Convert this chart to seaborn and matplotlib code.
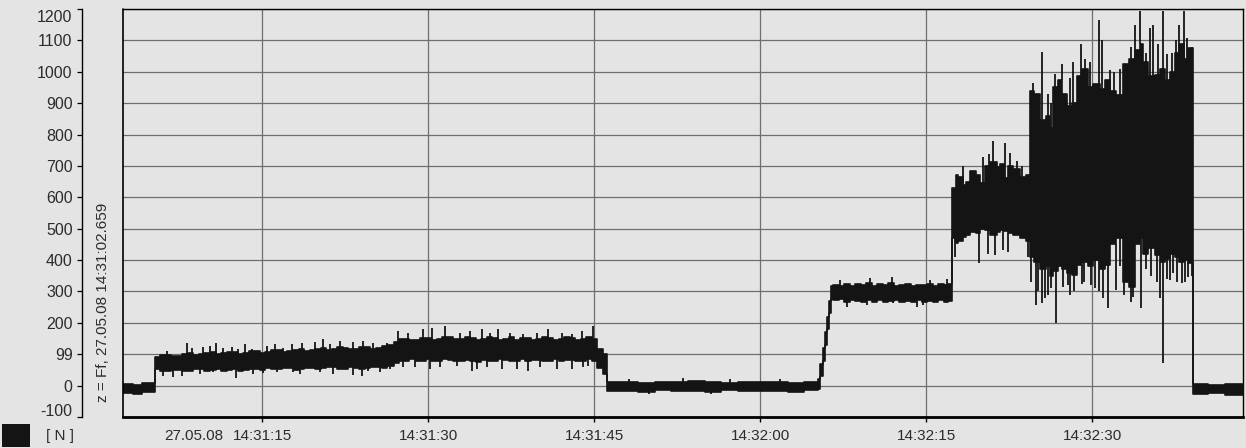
import numpy as np
import pandas as pd
import matplotlib
matplotlib.use("Agg")
import matplotlib.pyplot as plt
from matplotlib.patches import Rectangle
import seaborn as sns

# ---- data (time in s after 14:31:00, force in N) ----
# dense band of the recorded signal: knot time, upper edge, lower edge
env_t = [2.4, 3.3, 4.2,
         5.33, 5.8, 6.3, 6.8, 7.3, 7.8, 8.3, 8.8, 9.3, 9.8, 10.3, 10.8, 11.3, 11.8,
         12.3, 12.8, 13.3, 13.8, 14.3, 14.8, 15.3, 15.8, 16.3, 16.8, 17.3, 17.8,
         18.3, 18.8, 19.3, 19.8, 20.3, 20.8, 21.3, 21.8, 22.3, 22.8, 23.3, 23.8,
         24.3, 24.8, 25.3, 25.8, 26.3,
         26.9, 27.35, 27.8, 28.3, 28.8, 29.3, 29.8, 30.3, 30.8, 31.3, 31.8, 32.3,
         32.8, 33.3, 33.8, 34.3, 34.8, 35.3, 35.8, 36.3, 36.8, 37.3, 37.8, 38.3,
         38.8, 39.3, 39.8, 40.3, 40.8, 41.3, 41.8, 42.3, 42.8, 43.3, 43.8, 44.3,
         44.8, 45.3, 45.8,
         46.2, 47.5, 49.0, 50.5, 52.0, 53.5, 55.0, 56.5, 58.0, 59.5, 61.0, 62.5, 64.0,
         65.25, 65.45, 65.65, 65.85, 66.05, 66.25, 66.45,
         66.6, 67.1, 67.6, 68.1, 68.6, 69.1, 69.6, 70.1, 70.6, 71.1, 71.6, 72.1,
         72.6, 73.1, 73.6, 74.1, 74.6, 75.1, 75.6, 76.1, 76.6, 77.0,
         77.35, 77.7, 77.9, 78.3, 78.6, 79.0, 79.5, 79.9, 80.3, 80.8, 81.4, 81.7,
         82.0, 82.4, 82.9, 83.5, 84.0,
         84.4, 84.8, 85.3, 85.8, 86.2, 86.5, 86.9, 87.3, 87.7, 88.2, 88.6, 89.1,
         89.6, 90.1, 90.7, 91.2, 91.6, 92.2, 92.8, 93.3, 93.9, 94.3, 94.6, 95.1,
         95.7, 96.1, 96.6, 97.0, 97.5, 97.9, 98.3, 98.7,
         99.12, 100.5, 102.0, 103.8]
env_hi = [6, 2, 8,
          92, 96, 98, 93, 95, 101, 104, 98, 100, 105, 106, 101, 103, 107,
          108, 102, 104, 109, 110, 105, 108, 113, 112, 107, 110, 115,
          116, 111, 113, 118, 120, 114, 116, 122, 121, 116, 118, 123,
          122, 117, 120, 125, 128,
          140, 147, 150, 144, 146, 153, 152, 146, 148, 156, 155, 148,
          149, 155, 153, 146, 147, 154, 152, 145, 150, 155, 146, 151,
          152, 146, 148, 155, 153, 146, 147, 154, 151, 146, 149, 155,
          150, 118, 100,
          10, 13, 9, 12, 10, 14, 11, 9, 13, 10, 12, 9, 12,
          20, 70, 120, 170, 220, 270, 318,
          322, 318, 324, 317, 324, 320, 326, 318, 323, 320, 326, 317,
          322, 325, 318, 322, 320, 325, 318, 323, 320, 324,
          630, 672, 665, 640, 650, 683, 670, 646, 700, 712, 698, 705,
          662, 700, 690, 665, 670,
          940, 930, 845, 860, 820, 950, 975, 930, 890, 900, 985, 1010,
          950, 960, 945, 975, 940, 925, 1025, 1040, 1070, 1090, 1030, 985,
          990, 1010, 975, 1000, 1060, 1090, 1040, 1075,
          5, 2, 6, 6]
env_lo = [-22, -26, -20,
          52, 48, 46, 51, 50, 47, 47, 52, 52, 48, 50, 53, 48, 51,
          52, 48, 50, 53, 54, 51, 56, 52, 53, 57, 55, 51,
          52, 56, 56, 53, 55, 58, 58, 54, 54, 58, 57, 53,
          55, 59, 58, 55, 62,
          72, 78, 80, 84, 78, 80, 84, 79, 80, 85, 82, 77,
          78, 83, 80, 76, 83, 80, 79, 84, 82, 78, 80, 85,
          78, 81, 82, 77, 80, 84, 79, 81, 83, 78, 80, 84,
          78, 55, 38,
          -18, -16, -19, -15, -18, -16, -19, -15, -17, -18, -16, -19, -15,
          -10, 30, 80, 130, 180, 230, 275,
          272, 276, 268, 272, 270, 266, 272, 268, 274, 266, 270, 272,
          268, 270, 266, 272, 268, 271, 267, 273, 268, 271,
          470, 455, 462, 475, 480, 490, 485, 498, 495, 480, 488, 495,
          492, 485, 480, 470, 462,
          410, 395, 370, 380, 350, 365, 380, 370, 360, 352, 385, 395,
          380, 400, 370, 385, 450, 470, 330, 315, 450, 470, 420, 440,
          415, 395, 405, 420, 410, 395, 400, 390,
          -28, -24, -30, -30]

# single upward spikes above the band
spike_up_t = [6.42, 8.22, 8.68, 9.67, 10.30, 10.84, 11.48, 12.29, 12.83, 13.46, 14.10,
              15.45, 16.17, 16.90, 17.71, 18.61, 19.79, 20.51, 21.14, 22.05, 23.22,
              24.13, 25.03, 26.29,
              27.29, 28.19, 29.55, 30.36, 31.54, 32.89, 33.79, 34.88, 35.60, 36.32,
              37.41, 38.58, 39.85, 40.84, 42.11, 43.01, 43.91, 44.91,
              48.2, 53.0, 57.3, 61.8,
              67.23, 69.94, 71.93, 75.36, 76.90,
              78.34, 80.15, 80.69, 81.05, 82.14, 82.59, 83.22, 83.67,
              84.7, 85.48, 86.0, 86.3, 86.65, 87.29, 88.0, 88.3, 89.00, 89.4, 89.82,
              90.63, 90.90, 91.62, 92.0, 92.5, 93.5, 93.88, 94.33, 94.9, 95.24,
              95.51, 96.0, 96.41, 96.77, 97.2, 97.6, 97.86, 98.31, 98.58, 99.0]
spike_up_v = [110, 135, 121, 124, 127, 137, 121, 124, 118, 132, 116,
              127, 132, 121, 132, 135, 139, 147, 132, 142, 139,
              142, 135, 137,
              174, 169, 179, 185, 189, 169, 174, 179, 169, 179,
              169, 163, 169, 179, 169, 163, 174, 189,
              22, 24, 20, 22,
              336, 343, 346, 336, 340,
              700, 727, 737, 781, 772, 740, 715, 700,
              965, 1062, 930, 900, 993, 1024, 980, 1030, 1088, 1040, 1030,
              1166, 1100, 1005, 1000, 1010, 1080, 1150, 1195, 1060, 1141,
              1150, 1090, 1195, 1056, 1060, 1100, 1150, 1195, 1109, 1080]

# single downward spikes below the band
spike_dn_t = [6.05, 6.96, 7.77, 9.40, 10.57, 12.65, 14.19, 15.09, 16.36, 17.80, 18.43,
              20.24, 21.42, 23.22, 24.04, 24.58, 25.66,
              26.57, 27.74, 28.82, 30.18, 31.08, 32.62, 33.98, 34.43, 35.33, 36.69,
              38.04, 39.04, 40.12, 41.66, 43.01, 44.00, 44.46,
              50.0, 55.6,
              67.86, 69.67, 72.02, 74.18, 74.73,
              77.65, 79.79, 80.60, 81.23, 81.96, 82.41, 84.22,
              84.5, 84.94, 85.1, 85.48, 85.75, 86.0, 86.3, 86.74, 87.38, 87.83, 88.0,
              88.4, 89.09, 89.3, 89.91, 90.3, 90.6, 90.99, 91.44, 92.17, 92.5, 92.9,
              93.25, 93.5, 93.70, 94.43, 94.9, 95.3, 95.9, 96.14, 96.41, 96.8, 97.04,
              97.3, 97.7, 98.13, 98.4, 98.67, 99.0]
spike_dn_v = [32, 26, 32, 37, 42, 23, 37, 40, 44, 42, 37,
              42, 37, 34, 30, 47, 42,
              53, 58, 58, 53, 58, 63, 47, 53, 58, 53,
              53, 47, 58, 53, 53, 58, 63,
              -28, -27,
              251, 258, 262, 251, 258,
              410, 390, 420, 415, 431, 425, 410,
              330, 257, 300, 263, 279, 290, 310, 200, 315, 320, 290,
              300, 325, 330, 320, 310, 300, 280, 248, 305, 380, 290,
              330, 265, 283, 248, 370, 350, 330, 279, 73, 340, 336,
              360, 330, 326, 330, 346, 350]

x_ticks = [15, 30, 45, 60, 75, 90]
x_tick_labels = ["14:31:15", "14:31:30", "14:31:45", "14:32:00", "14:32:15", "14:32:30"]
date_label = "27.05.08"
y_ticks = [-100, 0, 100, 200, 300, 400, 500, 600, 700, 800, 900, 1000, 1100, 1200]
y_tick_labels = ["-100", "0", "99", "200", "300", "400", "500", "600", "700", "800",
                 "900", "1000", "1100", "1200"]
side_label = "z = Ff, 27.05.08 14:31:02.659"
unit_label = "[ N ]"

# ---- style ----
BG = "#e4e4e4"
INK = "#141414"
GRID = "#6e6e6e"
TXT = "#2c2c2c"
W, H = 1246, 448

sns.set_theme(style="white")
plt.rcParams["font.family"] = ["Liberation Sans", "DejaVu Sans"]

fig = plt.figure(figsize=(W / 100, H / 100), dpi=100, facecolor=BG)
ax = fig.add_axes([123 / W, 1 - 417 / H, (1243 - 123) / W, (417 - 9) / H])
ax.set_facecolor(BG)

df_env = pd.DataFrame({"t": env_t, "hi": env_hi, "lo": env_lo})
ax.fill_between(df_env["t"], df_env["lo"], df_env["hi"], step="post", color=INK, lw=0, zorder=3)
sns.lineplot(data=df_env, x="t", y="hi", drawstyle="steps-post", color=INK, lw=1.2, ax=ax, zorder=3)
sns.lineplot(data=df_env, x="t", y="lo", drawstyle="steps-post", color=INK, lw=1.2, ax=ax, zorder=3)


def band_at(ts, vals):
    idx = np.searchsorted(np.asarray(env_t), np.asarray(ts), side="right") - 1
    return np.asarray(vals)[idx]


ax.vlines(spike_up_t, band_at(spike_up_t, env_hi), spike_up_v, color=INK, lw=1.3, zorder=3)
ax.vlines(spike_dn_t, spike_dn_v, band_at(spike_dn_t, env_lo), color=INK, lw=1.3, zorder=3)

ax.set_xlim(2.44, 103.64)
ax.set_ylim(-100, 1200)
ax.set_xticks(x_ticks)
ax.set_xticklabels(x_tick_labels)
ax.set_yticks(y_ticks)
# end labels of the y scale are placed inside the bracket (drawn below)
ax.set_yticklabels([lab if lab not in (y_tick_labels[0], y_tick_labels[-1]) else ""
                    for lab in y_tick_labels])
ax.set_xlabel("")
ax.set_ylabel("")
ax.grid(True, color=GRID, lw=0.9, zorder=1)
ax.set_axisbelow(True)

ax.tick_params(axis="x", bottom=True, direction="out", length=3.6, width=1.0, pad=4.7,
               labelsize=11, labelcolor=TXT, color="black")
ax.tick_params(axis="y", left=True, direction="out", length=3.6, width=0.9, pad=3.2,
               labelsize=11.5, labelcolor=TXT, color="black")

for s in ["top", "right"]:
    ax.spines[s].set_color("black")
    ax.spines[s].set_linewidth(1.0)
ax.spines["bottom"].set_color("black")
ax.spines["bottom"].set_linewidth(2.0)
ax.spines["left"].set_color("black")
ax.spines["left"].set_linewidth(1.0)
ax.spines["left"].set_position(("outward", 29.5))
ax.axvline(2.44, color="black", lw=1.2, clip_on=False, zorder=4)

fig.text(72.6 / W, 1 - 17 / H, y_tick_labels[-1], ha="right", va="center",
         fontsize=11.5, color=TXT)
fig.text(72.6 / W, 1 - 411 / H, y_tick_labels[0], ha="right", va="center",
         fontsize=11.5, color=TXT)

ax.annotate(date_label, xy=(x_ticks[0], 0), xycoords=("data", "axes fraction"),
            xytext=(-39, -11.5), textcoords="offset pixels", ha="right", va="top",
            fontsize=11, color=TXT)

fig.text(103 / W, 1 - 302 / H, side_label, rotation=90, ha="center", va="center",
         fontsize=11, color=TXT)
fig.add_artist(Rectangle((2 / W, 1 - 447 / H), 28 / W, 23 / H, transform=fig.transFigure,
                         color=INK, lw=0))
fig.text(46 / W, 1 - 436 / H, unit_label, ha="left", va="center", fontsize=11, color=TXT)

fig.savefig("out.png", dpi=100, facecolor=BG)
